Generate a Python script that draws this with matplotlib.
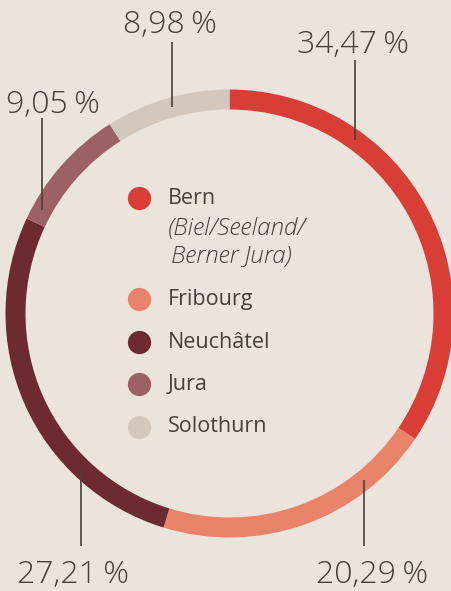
import numpy as np
import matplotlib
matplotlib.use("Agg")
import matplotlib.pyplot as plt

# ---- data ----
regions = ["Bern", "Fribourg", "Neuchâtel", "Jura", "Solothurn"]
shares = [34.47, 20.29, 27.21, 9.05, 8.98]
labels = ["34,47\u2009%", "20,29\u2009%", "27,21\u2009%", "9,05\u2009%", "8,98\u2009%"]
colors = ["#d93e36", "#e9846b", "#6e2a33", "#9c6166", "#d3c8be"]
bern_sub = "(Biel/Seeland/\nBerner Jura)"

BG = "#ebe4dc"
TXT = "#4a4039"
W, H = 452, 591

fig = plt.figure(figsize=(W / 100, H / 100), dpi=100, facecolor=BG)
ax = fig.add_axes([0, 0, 1, 1], facecolor=BG)

cx, cy = 229.5, H - 313.5
R, ring = 224, 20
ax.pie(shares, colors=colors, startangle=90, counterclock=False,
       radius=R, center=(cx, cy), frame=True,
       wedgeprops=dict(width=ring, linewidth=0))
ax.set_xlim(0, W)
ax.set_ylim(0, H)
ax.set_aspect("equal")
ax.axis("off")

rmid = R - ring / 2
leader_x = [355, 364, 81, 42, 172]
text_y = [53, 583, 583, 113, 33]
text_x = [353, 372, 73, 53, 170]
line_end = [60, 546, 546, 118, 42]
for i, lab in enumerate(labels):
    lx = leader_x[i]
    dx = lx - cx
    dy = np.sqrt(max(rmid ** 2 - dx ** 2, 0))
    upper = text_y[i] < 300
    yring = cy + dy if upper else cy - dy
    ax.plot([lx, lx], [H - line_end[i], yring], color=TXT, lw=1.2,
            solid_capstyle="butt")
    ax.text(text_x[i], H - text_y[i], lab, ha="center", va="baseline",
            fontsize=23, color=TXT, family="Open Sans", fontweight="light")

dot_x, txt_x = 139, 168
leg_y = [198, 299, 342, 384, 427]
for i, name in enumerate(regions):
    ax.scatter([dot_x], [H - leg_y[i]], s=280, color=colors[i], linewidths=0)
    ax.text(txt_x, H - leg_y[i], name, ha="left", va="center", fontsize=15.5,
            color=TXT, family="Open Sans")
sub_y = [229, 257]
for j, line in enumerate(bern_sub.split("\n")):
    ax.text(txt_x + (0 if j == 0 else 3), H - sub_y[j], line, ha="left",
            va="center", fontsize=17.5, color=TXT, family="Open Sans",
            style="italic", fontweight="light")

fig.savefig("out.png", dpi=100, facecolor=BG)
